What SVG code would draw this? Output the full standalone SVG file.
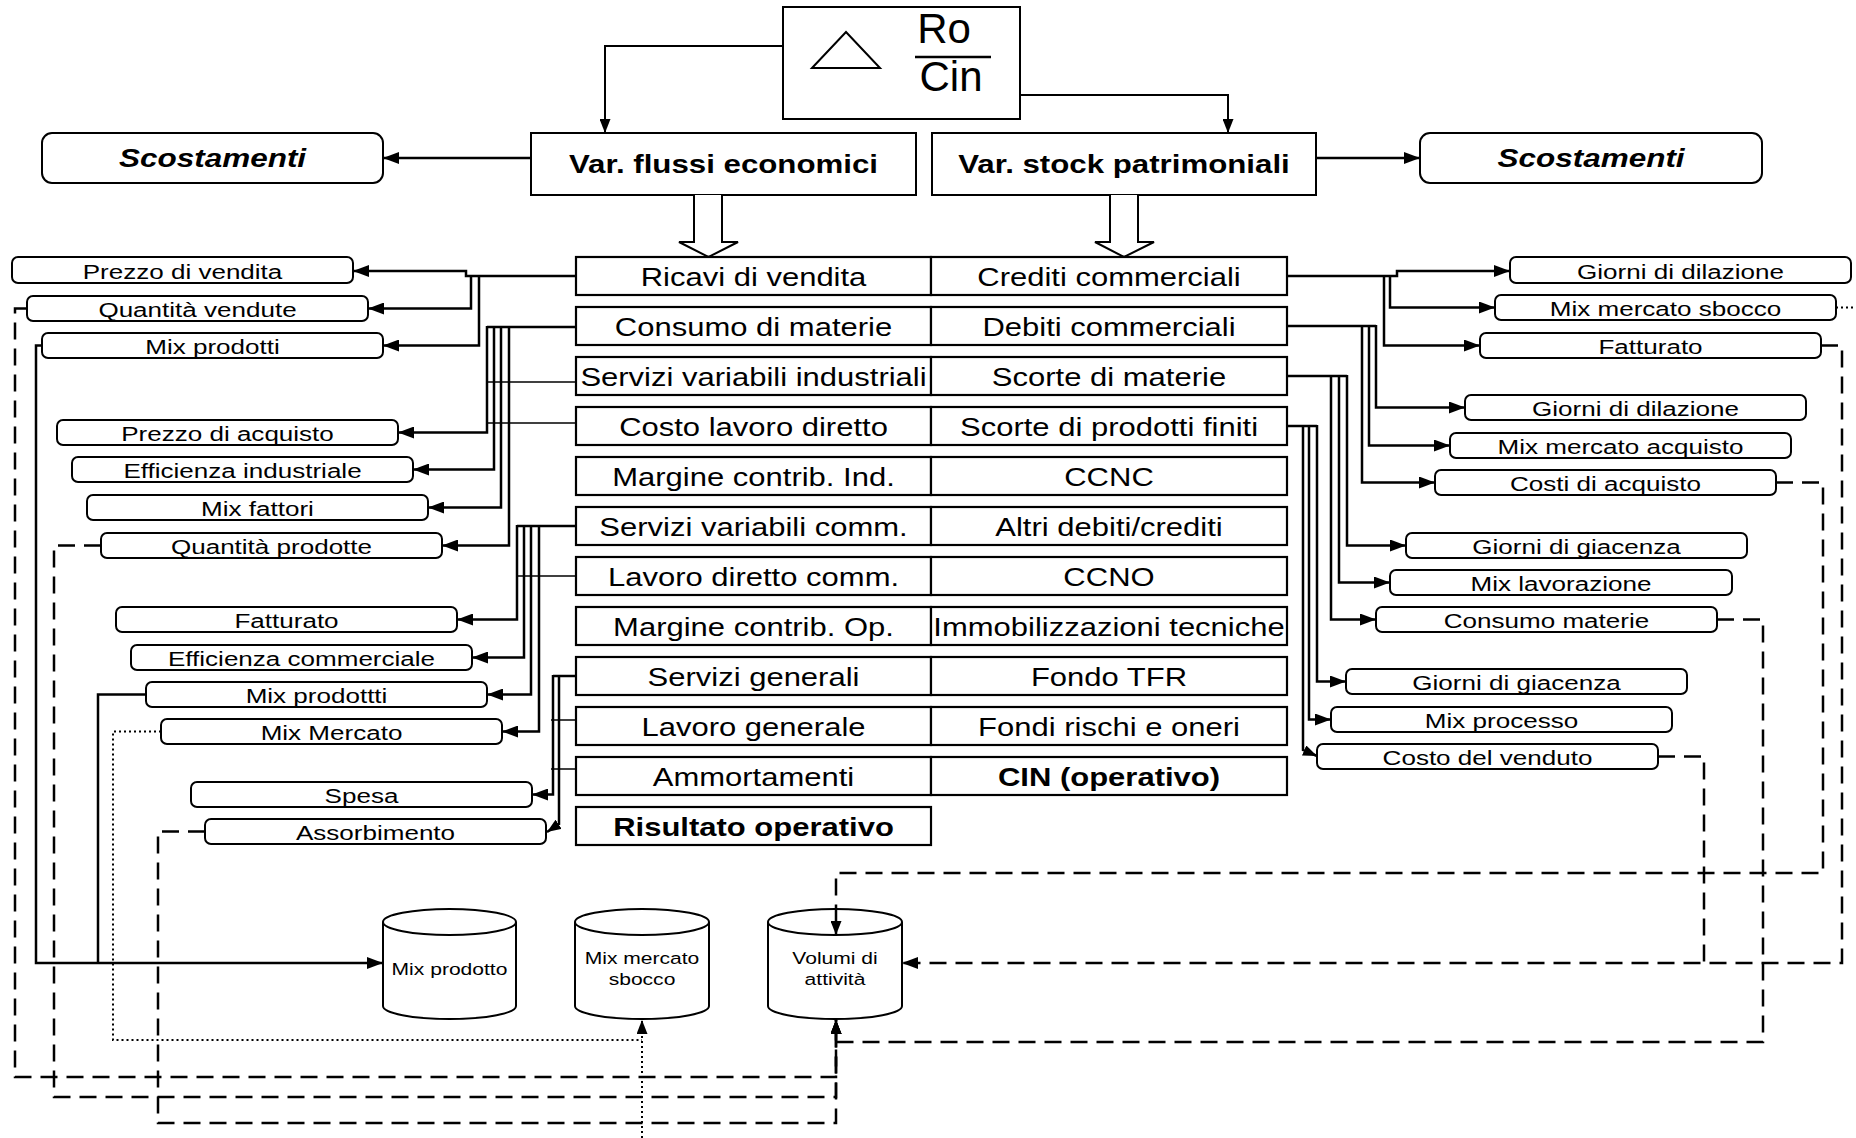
<svg xmlns="http://www.w3.org/2000/svg" width="1856" height="1138" viewBox="0 0 1856 1138">
  <style>
    .box { fill: #fff; stroke: #000; stroke-width: 2; }
    .cell { fill: #fff; stroke: #000; stroke-width: 2.2; }
    .cyl { fill: #fff; stroke: #000; stroke-width: 2; }
    .lbl { font-family: "Liberation Sans", Arial, sans-serif; fill: #000; text-anchor: middle; }
    .t25 { font-size: 25px; }
    .t21 { font-size: 21px; }
    .t17 { font-size: 17px; }
    .b { font-weight: bold; }
    .it { font-style: italic; }
    .c { fill: none; stroke: #000; stroke-width: 2.5; }
    .thin { stroke-width: 1.5; }
    .mid { stroke-width: 2; }
    .dash { stroke-dasharray: 17 9; }
    .dot { stroke-width: 2; stroke-dasharray: 2 3; }
  </style>
  <defs>
    <marker id="ah" viewBox="0 0 16 12" refX="16" refY="6" markerWidth="16" markerHeight="12" orient="auto" markerUnits="userSpaceOnUse">
      <path d="M0,0 L16,6 L0,12 Z" fill="#000"/>
    </marker>
    <marker id="ahs" viewBox="0 0 14 11" refX="14" refY="5.5" markerWidth="14" markerHeight="11" orient="auto" markerUnits="userSpaceOnUse">
      <path d="M0,0 L14,5.5 L0,11 Z" fill="#000"/>
    </marker>
  </defs>

  <!-- ratio box: delta Ro / Cin -->
  <g id="ratio">
    <rect class="box" x="783" y="7" width="237" height="112"/>
    <path d="M812,68 L846,32 L880,68 Z" fill="none" stroke="#000" stroke-width="2"/>
    <text class="lbl" x="944" y="43" font-size="42">Ro</text>
    <line x1="915" y1="57" x2="991" y2="57" stroke="#000" stroke-width="2.5"/>
    <text class="lbl" x="951" y="91" font-size="42">Cin</text>
  </g>

  <g id="var-flussi">
    <rect class="box" x="531" y="133" width="385" height="62"/>
    <text class="lbl t25 b" transform="translate(723.5,173) scale(1.25,1)">Var. flussi economici</text>
  </g>
  <g id="var-stock">
    <rect class="box" x="932" y="133" width="384" height="62"/>
    <text class="lbl t25 b" transform="translate(1124,173) scale(1.25,1)">Var. stock patrimoniali</text>
  </g>
  <g id="scost-left">
    <rect class="box" x="42" y="133" width="341" height="50" rx="10"/>
    <text class="lbl t25 b it" transform="translate(212.5,167) scale(1.26,1)">Scostamenti</text>
  </g>
  <g id="scost-right">
    <rect class="box" x="1420" y="133" width="342" height="50" rx="10"/>
    <text class="lbl t25 b it" transform="translate(1591,167) scale(1.26,1)">Scostamenti</text>
  </g>

  <!-- hollow block arrows into the table -->
  <g id="block-arrows">
    <path d="M694,195 V242 H679 L708.5,257 L738,242 H722 V195" fill="#fff" stroke="#000" stroke-width="2"/>
    <path d="M1110,195 V242 H1095 L1124,257 L1154,242 H1138 V195" fill="#fff" stroke="#000" stroke-width="2"/>
  </g>

  <!-- income statement / balance sheet table -->
  <g id="table">
    <g id="r-ricavi"><rect class="cell" x="576" y="257" width="355" height="38"/><text class="lbl t25" transform="translate(753.5,286) scale(1.24,1)">Ricavi di vendita</text></g>
    <g id="r-crediti"><rect class="cell" x="931" y="257" width="356" height="38"/><text class="lbl t25" transform="translate(1109,286) scale(1.24,1)">Crediti commerciali</text></g>
    <g id="r-consumo"><rect class="cell" x="576" y="307" width="355" height="38"/><text class="lbl t25" transform="translate(753.5,336) scale(1.24,1)">Consumo di materie</text></g>
    <g id="r-debiti"><rect class="cell" x="931" y="307" width="356" height="38"/><text class="lbl t25" transform="translate(1109,336) scale(1.24,1)">Debiti commerciali</text></g>
    <g id="r-servind"><rect class="cell" x="576" y="357" width="355" height="38"/><text class="lbl t25" transform="translate(753.5,386) scale(1.24,1)">Servizi variabili industriali</text></g>
    <g id="r-scortemat"><rect class="cell" x="931" y="357" width="356" height="38"/><text class="lbl t25" transform="translate(1109,386) scale(1.24,1)">Scorte di materie</text></g>
    <g id="r-lavdir"><rect class="cell" x="576" y="407" width="355" height="38"/><text class="lbl t25" transform="translate(753.5,436) scale(1.24,1)">Costo lavoro diretto</text></g>
    <g id="r-scortepf"><rect class="cell" x="931" y="407" width="356" height="38"/><text class="lbl t25" transform="translate(1109,436) scale(1.24,1)">Scorte di prodotti finiti</text></g>
    <g id="r-mcind"><rect class="cell" x="576" y="457" width="355" height="38"/><text class="lbl t25" transform="translate(753.5,486) scale(1.24,1)">Margine contrib. Ind.</text></g>
    <g id="r-ccnc"><rect class="cell" x="931" y="457" width="356" height="38"/><text class="lbl t25" transform="translate(1109,486) scale(1.24,1)">CCNC</text></g>
    <g id="r-servcomm"><rect class="cell" x="576" y="507" width="355" height="38"/><text class="lbl t25" transform="translate(753.5,536) scale(1.24,1)">Servizi variabili comm.</text></g>
    <g id="r-altri"><rect class="cell" x="931" y="507" width="356" height="38"/><text class="lbl t25" transform="translate(1109,536) scale(1.24,1)">Altri debiti/crediti</text></g>
    <g id="r-lavcomm"><rect class="cell" x="576" y="557" width="355" height="38"/><text class="lbl t25" transform="translate(753.5,586) scale(1.24,1)">Lavoro diretto comm.</text></g>
    <g id="r-ccno"><rect class="cell" x="931" y="557" width="356" height="38"/><text class="lbl t25" transform="translate(1109,586) scale(1.24,1)">CCNO</text></g>
    <g id="r-mcop"><rect class="cell" x="576" y="607" width="355" height="38"/><text class="lbl t25" transform="translate(753.5,636) scale(1.24,1)">Margine contrib. Op.</text></g>
    <g id="r-immob"><rect class="cell" x="931" y="607" width="356" height="38"/><text class="lbl t25" transform="translate(1109,636) scale(1.24,1)">Immobilizzazioni tecniche</text></g>
    <g id="r-servgen"><rect class="cell" x="576" y="657" width="355" height="38"/><text class="lbl t25" transform="translate(753.5,686) scale(1.24,1)">Servizi generali</text></g>
    <g id="r-tfr"><rect class="cell" x="931" y="657" width="356" height="38"/><text class="lbl t25" transform="translate(1109,686) scale(1.24,1)">Fondo TFR</text></g>
    <g id="r-lavgen"><rect class="cell" x="576" y="707" width="355" height="38"/><text class="lbl t25" transform="translate(753.5,736) scale(1.24,1)">Lavoro generale</text></g>
    <g id="r-fondi"><rect class="cell" x="931" y="707" width="356" height="38"/><text class="lbl t25" transform="translate(1109,736) scale(1.24,1)">Fondi rischi e oneri</text></g>
    <g id="r-ammort"><rect class="cell" x="576" y="757" width="355" height="38"/><text class="lbl t25" transform="translate(753.5,786) scale(1.24,1)">Ammortamenti</text></g>
    <g id="r-cin"><rect class="cell" x="931" y="757" width="356" height="38"/><text class="lbl t25 b" transform="translate(1109,786) scale(1.24,1)">CIN (operativo)</text></g>
    <g id="r-ro"><rect class="cell" x="576" y="807" width="355" height="38"/><text class="lbl t25 b" transform="translate(753.5,836) scale(1.24,1)">Risultato operativo</text></g>
  </g>

  <!-- left variance drivers -->
  <g id="l-prezzo-vendita"><rect class="box" x="12" y="257" width="341" height="26" rx="6"/><text class="lbl t21" transform="translate(182.5,279) scale(1.24,1)">Prezzo di vendita</text></g>
  <g id="l-qta-vendute"><rect class="box" x="27" y="296" width="341" height="25" rx="6"/><text class="lbl t21" transform="translate(197.5,317) scale(1.24,1)">Quantità vendute</text></g>
  <g id="l-mix-prodotti"><rect class="box" x="42" y="333" width="341" height="25" rx="6"/><text class="lbl t21" transform="translate(212.5,354) scale(1.24,1)">Mix prodotti</text></g>
  <g id="l-prezzo-acquisto"><rect class="box" x="57" y="420" width="341" height="25" rx="6"/><text class="lbl t21" transform="translate(227.5,441) scale(1.24,1)">Prezzo di acquisto</text></g>
  <g id="l-eff-ind"><rect class="box" x="72" y="457" width="341" height="25" rx="6"/><text class="lbl t21" transform="translate(242.5,478) scale(1.24,1)">Efficienza industriale</text></g>
  <g id="l-mix-fattori"><rect class="box" x="87" y="495" width="341" height="25" rx="6"/><text class="lbl t21" transform="translate(257.5,516) scale(1.24,1)">Mix fattori</text></g>
  <g id="l-qta-prodotte"><rect class="box" x="101" y="533" width="341" height="25" rx="6"/><text class="lbl t21" transform="translate(271.5,554) scale(1.24,1)">Quantità prodotte</text></g>
  <g id="l-fatturato"><rect class="box" x="116" y="607" width="341" height="25" rx="6"/><text class="lbl t21" transform="translate(286.5,628) scale(1.24,1)">Fatturato</text></g>
  <g id="l-eff-comm"><rect class="box" x="131" y="645" width="341" height="25" rx="6"/><text class="lbl t21" transform="translate(301.5,666) scale(1.24,1)">Efficienza commerciale</text></g>
  <g id="l-mix-prodottti"><rect class="box" x="146" y="682" width="341" height="25" rx="6"/><text class="lbl t21" transform="translate(316.5,703) scale(1.24,1)">Mix prodottti</text></g>
  <g id="l-mix-mercato"><rect class="box" x="161" y="719" width="341" height="25" rx="6"/><text class="lbl t21" transform="translate(331.5,740) scale(1.24,1)">Mix Mercato</text></g>
  <g id="l-spesa"><rect class="box" x="191" y="782" width="341" height="25" rx="6"/><text class="lbl t21" transform="translate(361.5,803) scale(1.24,1)">Spesa</text></g>
  <g id="l-assorbimento"><rect class="box" x="205" y="819" width="341" height="25" rx="6"/><text class="lbl t21" transform="translate(375.5,840) scale(1.24,1)">Assorbimento</text></g>

  <!-- right variance drivers -->
  <g id="r-giorni-dil-1"><rect class="box" x="1510" y="257" width="341" height="26" rx="6"/><text class="lbl t21" transform="translate(1680.5,279) scale(1.24,1)">Giorni di dilazione</text></g>
  <g id="r-mix-sbocco"><rect class="box" x="1495" y="295" width="341" height="25" rx="6"/><text class="lbl t21" transform="translate(1665.5,316) scale(1.24,1)">Mix mercato sbocco</text></g>
  <g id="r-fatturato"><rect class="box" x="1480" y="333" width="341" height="25" rx="6"/><text class="lbl t21" transform="translate(1650.5,354) scale(1.24,1)">Fatturato</text></g>
  <g id="r-giorni-dil-2"><rect class="box" x="1465" y="395" width="341" height="25" rx="6"/><text class="lbl t21" transform="translate(1635.5,416) scale(1.24,1)">Giorni di dilazione</text></g>
  <g id="r-mix-acquisto"><rect class="box" x="1450" y="433" width="341" height="25" rx="6"/><text class="lbl t21" transform="translate(1620.5,454) scale(1.24,1)">Mix mercato acquisto</text></g>
  <g id="r-costi-acquisto"><rect class="box" x="1435" y="470" width="341" height="25" rx="6"/><text class="lbl t21" transform="translate(1605.5,491) scale(1.24,1)">Costi di acquisto</text></g>
  <g id="r-giorni-giac-1"><rect class="box" x="1406" y="533" width="341" height="25" rx="6"/><text class="lbl t21" transform="translate(1576.5,554) scale(1.24,1)">Giorni di giacenza</text></g>
  <g id="r-mix-lav"><rect class="box" x="1390" y="570" width="342" height="25" rx="6"/><text class="lbl t21" transform="translate(1561,591) scale(1.24,1)">Mix lavorazione</text></g>
  <g id="r-consumo-mat"><rect class="box" x="1376" y="607" width="341" height="25" rx="6"/><text class="lbl t21" transform="translate(1546.5,628) scale(1.24,1)">Consumo materie</text></g>
  <g id="r-giorni-giac-2"><rect class="box" x="1346" y="669" width="341" height="25" rx="6"/><text class="lbl t21" transform="translate(1516.5,690) scale(1.24,1)">Giorni di giacenza</text></g>
  <g id="r-mix-processo"><rect class="box" x="1331" y="707" width="341" height="25" rx="6"/><text class="lbl t21" transform="translate(1501.5,728) scale(1.24,1)">Mix processo</text></g>
  <g id="r-costo-venduto"><rect class="box" x="1317" y="744" width="341" height="25" rx="6"/><text class="lbl t21" transform="translate(1487.5,765) scale(1.24,1)">Costo del venduto</text></g>

  <!-- data stores -->
  <g id="db-mix-prodotto">
    <path class="cyl" d="M383,922 A66.5,13 0 0 1 516,922 V1006 A66.5,13 0 0 1 383,1006 Z"/>
    <path class="cyl" d="M383,922 A66.5,13 0 0 0 516,922" fill="none"/>
    <text class="lbl t17" transform="translate(449.5,975) scale(1.24,1)">Mix prodotto</text>
  </g>
  <g id="db-mix-sbocco">
    <path class="cyl" d="M575,922 A67,13 0 0 1 709,922 V1006 A67,13 0 0 1 575,1006 Z"/>
    <path class="cyl" d="M575,922 A67,13 0 0 0 709,922" fill="none"/>
    <text class="lbl t17" transform="translate(642,964) scale(1.24,1)">Mix mercato</text>
    <text class="lbl t17" transform="translate(642,985) scale(1.24,1)">sbocco</text>
  </g>
  <g id="db-volumi">
    <path class="cyl" d="M768,922 A67,13 0 0 1 902,922 V1006 A67,13 0 0 1 768,1006 Z"/>
    <path class="cyl" d="M768,922 A67,13 0 0 0 902,922" fill="none"/>
    <text class="lbl t17" transform="translate(835,964) scale(1.24,1)">Volumi di</text>
    <text class="lbl t17" transform="translate(835,985) scale(1.24,1)">attività</text>
  </g>

  <g id="connectors">
    <!-- top level -->
    <path class="c mid" d="M783,46 H605 V133" marker-end="url(#ahs)"/>
    <path class="c mid" d="M1020,95 H1228 V133" marker-end="url(#ahs)"/>
    <path class="c" d="M531,158 H383" marker-end="url(#ah)"/>
    <path class="c" d="M1316,158 H1420" marker-end="url(#ah)"/>

    <!-- revenues -->
    <path class="c" d="M576,276 H466 V271 H353" marker-end="url(#ah)"/>
    <path class="c" d="M471,276 V308.5 H368" marker-end="url(#ah)"/>
    <path class="c" d="M479,276 V345.5 H383" marker-end="url(#ah)"/>

    <!-- industrial costs -->
    <path class="c" d="M576,327 H487"/>
    <path class="c thin" d="M576,382 H487"/>
    <path class="c thin" d="M576,423 H487"/>
    <path class="c" d="M487,326 V432.5 H398" marker-end="url(#ah)"/>
    <path class="c" d="M494,326 V469.5 H413" marker-end="url(#ah)"/>
    <path class="c" d="M501,326 V507.5 H428" marker-end="url(#ah)"/>
    <path class="c" d="M509,326 V545.5 H442" marker-end="url(#ah)"/>

    <!-- commercial costs -->
    <path class="c" d="M576,526 H517"/>
    <path class="c thin" d="M576,576 H517"/>
    <path class="c" d="M517,525 V619.5 H457" marker-end="url(#ah)"/>
    <path class="c" d="M524,525 V657.5 H472" marker-end="url(#ah)"/>
    <path class="c" d="M531,525 V694.5 H487" marker-end="url(#ah)"/>
    <path class="c" d="M539,525 V731.5 H502" marker-end="url(#ah)"/>

    <!-- general costs -->
    <path class="c" d="M576,676 H553"/>
    <path class="c thin" d="M576,720 H551"/>
    <path class="c thin" d="M576,769 H551"/>
    <path class="c" d="M553,675 V794.5 H532" marker-end="url(#ah)"/>
    <path class="c" d="M559,675 V824 L547,832" marker-end="url(#ahs)"/>

    <!-- trade receivables -->
    <path class="c" d="M1287,276 H1397 V271 H1510" marker-end="url(#ah)"/>
    <path class="c" d="M1390,276 V307.5 H1495" marker-end="url(#ah)"/>
    <path class="c" d="M1384,276 V345.5 H1480" marker-end="url(#ah)"/>

    <!-- trade payables -->
    <path class="c" d="M1287,326 H1376"/>
    <path class="c" d="M1376,325 V407.5 H1465" marker-end="url(#ah)"/>
    <path class="c" d="M1369,325 V445.5 H1450" marker-end="url(#ah)"/>
    <path class="c" d="M1362,325 V482.5 H1435" marker-end="url(#ah)"/>

    <!-- raw material stock -->
    <path class="c" d="M1287,376 H1347"/>
    <path class="c" d="M1347,375 V545.5 H1406" marker-end="url(#ah)"/>
    <path class="c" d="M1339,375 V582.5 H1390" marker-end="url(#ah)"/>
    <path class="c" d="M1331,375 V619.5 H1376" marker-end="url(#ah)"/>

    <!-- finished goods stock -->
    <path class="c" d="M1287,426 H1317"/>
    <path class="c" d="M1317,425 V681.5 H1346" marker-end="url(#ah)"/>
    <path class="c" d="M1309,425 V719.5 H1331" marker-end="url(#ah)"/>
    <path class="c" d="M1303,425 V750 L1317,756" marker-end="url(#ahs)"/>

    <!-- product mix store -->
    <path class="c" d="M42,345.5 H36 V963 H383" marker-end="url(#ah)"/>
    <path class="c" d="M146,694.5 H98 V963"/>

    <!-- market mix store (dotted) -->
    <path class="c dot" d="M161,731.5 H113 V1040 H642"/>
    <path class="c dot" d="M642,1138 V1020" marker-end="url(#ahs)"/>
    <path class="c dot" d="M1836,307.5 H1856"/>

    <!-- activity volume store (dashed) -->
    <path class="c dash" d="M27,308.5 H15 V1077 H836 V1020" marker-end="url(#ahs)"/>
    <path class="c dash" d="M101,545.5 H54 V1097 H836 V1020" marker-end="url(#ahs)"/>
    <path class="c dash" d="M205,831.5 H158 V1123 H836 V1020" marker-end="url(#ahs)"/>
    <path class="c dash" d="M1717,619.5 H1763 V1042 H836 V1020" marker-end="url(#ahs)"/>
    <path class="c dash" d="M1821,345.5 H1842 V963 H902" marker-end="url(#ah)"/>
    <path class="c dash" d="M1658,756.5 H1704 V963"/>
    <path class="c dash" d="M1776,482.5 H1823 V873 H836 V935" marker-end="url(#ahs)"/>
  </g>
</svg>
